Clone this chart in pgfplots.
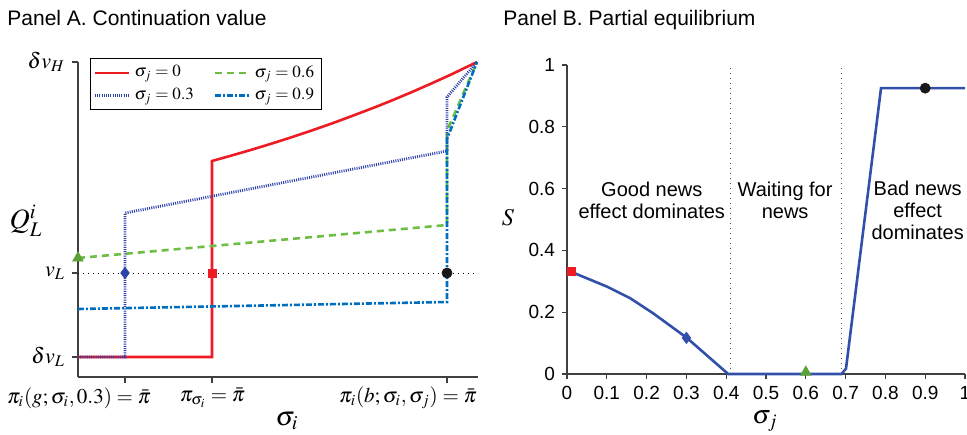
\documentclass[border=0pt]{standalone}
\usepackage{mathptmx}
\usepackage[no-math]{fontspec}
\setmainfont{Liberation Sans}
\usepackage{pgfplots}
\pgfplotsset{compat=1.18}

\definecolor{cred}{RGB}{237,28,36}
\definecolor{cdot}{RGB}{45,65,170}
\definecolor{cgreen}{RGB}{110,190,70}
\definecolor{cdd}{RGB}{0,110,190}
\definecolor{cline}{RGB}{50,80,170}

\begin{document}
\begin{tikzpicture}
\useasboundingbox (0,0) rectangle (483.5pt,217pt);

% titles
\node[anchor=base west, inner sep=0pt, font=\fontsize{10.5}{12}\selectfont] at (3.5pt,204pt) {Panel A. Continuation value};
\node[anchor=base west, inner sep=0pt, font=\fontsize{10.5}{12}\selectfont] at (251.5pt,204pt) {Panel B. Partial equilibrium};

% ---------------- Panel A (coordinates in pixels of the figure)
\begin{axis}[
  at={(39pt,28.5pt)}, anchor=south west,
  scale only axis, width=200pt, height=157.5pt,
  xmin=0, xmax=400, ymin=0, ymax=315,
  axis lines*=left,
  axis line style={line width=0.6pt, black!75},
  tick align=outside, major tick length=3pt,
  tick style={line width=0.6pt, black!75},
  xtick={47,134,369}, xticklabels={},
  ytick={20,104,315}, yticklabels={$\delta v_L$,$v_L$,$\delta v_H$},
  yticklabel style={font=\fontsize{11}{12}\selectfont},
  clip=false,
  legend columns=2,
  legend cell align=left,
  legend style={at={(axis description cs:0.03,1.013)}, anchor=north west,
    draw=black, line width=0.6pt, inner sep=1.5pt,
    font=\fontsize{8.5}{10}\selectfont,
    /tikz/every even column/.append style={column sep=8pt}},
]
\addplot[black, dotted, line width=0.5pt, forget plot] coordinates {(0,104) (400,104)};

\addplot[cred, line width=1.3pt] coordinates {
  (0,20) (134,20) (134,216) (154,221.6) (174,227.4) (194,233.5) (214,239.9)
  (234,246.6) (254,253.6) (274,261.0) (294,268.6) (314,276.6) (334,285.0)
  (354,293.8) (374,302.9) (399,315)};
\addlegendentry{$\sigma_j = 0$}

\addplot[cgreen, line width=1.3pt, dash pattern=on 3.5pt off 2.5pt] coordinates {
  (0,119) (369,152) (369,246) (399,315)};
\addlegendentry{$\sigma_j = 0.6$}

\addplot[cdot, line width=1.4pt, dash pattern=on 0.5pt off 0.6pt] coordinates {
  (0,20) (47,20) (47,164) (369,226) (369,280) (399,315)};
\addlegendentry{$\sigma_j = 0.3$}

\addplot[cdd, line width=1.3pt, dash pattern=on 3pt off 1pt on 1pt off 1pt] coordinates {
  (0,68) (369,75) (369,238) (399,315)};
\addlegendentry{$\sigma_j = 0.9$}

\addplot[only marks, mark=triangle*, mark size=3pt, cgreen!85!black, forget plot] coordinates {(0,119)};
\addplot[only marks, mark=diamond*, mark size=2.8pt, cdot, forget plot] coordinates {(47,104)};
\addplot[only marks, mark=square*, mark size=2pt, cred, forget plot] coordinates {(134,104)};
\addplot[only marks, mark=*, mark size=2.5pt, black!90, forget plot] coordinates {(369,104)};
\end{axis}

% Panel A labels
\node[font=\fontsize{10.5}{12}\selectfont] at (39.5pt,18pt) {$\pi_i(g;\sigma_i,0.3)=\bar{\pi}$};
\node[font=\fontsize{10.5}{12}\selectfont] at (106.25pt,18pt) {$\pi_{\sigma_i}=\bar{\pi}$};
\node[font=\fontsize{10.5}{12}\selectfont] at (204pt,18pt) {$\pi_i(b;\sigma_i,\sigma_j)=\bar{\pi}$};
\node[font=\fontsize{13.5}{15}\selectfont] at (143.5pt,6.5pt) {$\sigma_i$};
\node[font=\fontsize{14}{15}\selectfont] at (13pt,106.5pt) {$Q_L^i$};

% ---------------- Panel B
\begin{axis}[
  at={(283.5pt,30pt)}, anchor=south west,
  scale only axis, width=199pt, height=154.5pt,
  xmin=0, xmax=1, ymin=0, ymax=1,
  axis lines*=left,
  axis line style={line width=0.6pt, black!75},
  tick align=outside, major tick length=2.5pt,
  tick style={line width=0.6pt, black!75},
  xtick={0,0.1,0.2,0.3,0.4,0.5,0.6,0.7,0.8,0.9,1},
  xticklabels={0,0.1,0.2,0.3,0.4,0.5,0.6,0.7,0.8,0.9,1},
  ytick={0,0.2,0.4,0.6,0.8,1},
  yticklabels={0,0.2,0.4,0.6,0.8,1},
  ticklabel style={font=\fontsize{9.5}{10}\selectfont},
  clip=false,
]
\addplot[black!70, dotted, line width=0.5pt] coordinates {(0.41,0) (0.41,1)};
\addplot[black!70, dotted, line width=0.5pt] coordinates {(0.69,0) (0.69,1)};
\addplot[cline, line width=1.3pt] coordinates {
  (0.01,0.331) (0.1,0.283) (0.159,0.245) (0.217,0.196) (0.301,0.117)
  (0.405,0) (0.69,0) (0.701,0.018) (0.789,0.925) (1,0.925)};
\addplot[only marks, mark=square*, mark size=2pt, cred] coordinates {(0.01,0.331)};
\addplot[only marks, mark=diamond*, mark size=2.8pt, cline] coordinates {(0.3,0.117)};
\addplot[only marks, mark=triangle*, mark size=3pt, cgreen!85!black] coordinates {(0.6,0.006)};
\addplot[only marks, mark=*, mark size=2.5pt, black!90] coordinates {(0.9,0.925)};

\node[align=center, font=\fontsize{10}{11}\selectfont] at (axis cs:0.213,0.563) {Good news\\effect dominates};
\node[align=center, font=\fontsize{10}{11}\selectfont] at (axis cs:0.548,0.563) {Waiting for\\news};
\node[align=center, font=\fontsize{10}{11}\selectfont] at (axis cs:0.881,0.528) {Bad news\\effect\\dominates};
\end{axis}

\node[font=\fontsize{12}{13}\selectfont] at (254pt,108pt) {$S$};
\node[font=\fontsize{13}{14}\selectfont] at (382.5pt,6.5pt) {$\sigma_j$};
\end{tikzpicture}
\end{document}
